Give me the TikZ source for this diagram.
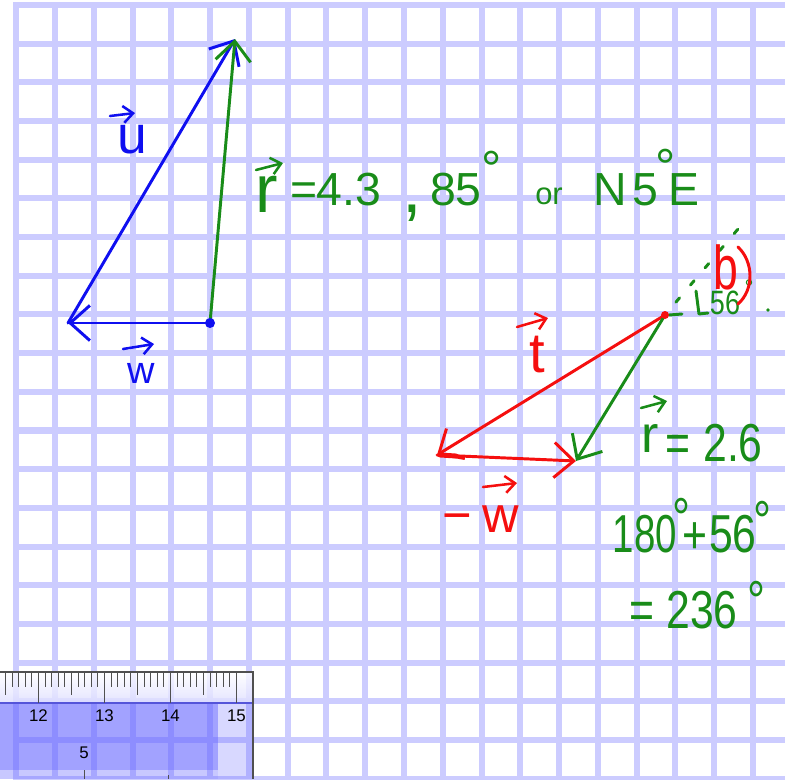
\documentclass[tikz,border=0pt]{standalone}
\usepackage{fontspec}
\setmainfont{Liberation Sans}
\newfontfamily\handnarrow[FakeStretch=0.8]{Liberation Sans}
\newfontfamily\handslim[FakeStretch=0.72]{Liberation Sans}
\usepackage{tikz}
\usetikzlibrary{arrows.meta,calc}

\definecolor{gridblue}{RGB}{204,204,255}
\definecolor{penblue}{RGB}{15,15,240}
\definecolor{pengreen}{RGB}{25,140,25}
\definecolor{penred}{RGB}{245,15,15}
\definecolor{rulerblue}{RGB}{100,100,255}
\definecolor{rulerlight}{RGB}{222,222,255}
\definecolor{tickgrey}{RGB}{80,80,80}

\newcommand\handsz[1]{\fontsize{#1}{#1}\selectfont}
\newcommand\narrowsz[1]{\handnarrow\fontsize{#1}{#1}\selectfont}
\newcommand\slimsz[1]{\handslim\fontsize{#1}{#1}\selectfont}

\tikzset{
  gridline/.style={gridblue, line width=4.3pt},
  pen/.style={line width=2.1pt, line cap=round, line join=round},
  vecline/.style={pen, -{Straight Barb[length=14pt,width=25pt]}},
  labvec/.style={pen, line width=1.8pt, -{Straight Barb[length=7pt,width=12pt]}},
  hand/.style={inner sep=0pt, anchor=base},
}

\begin{document}
\begin{tikzpicture}[x=0.25mm, y=-0.25mm]
    \useasboundingbox (0,0) rectangle (785,779);
    \fill[white] (0,0) rectangle (785,779);

    % Grid
    \foreach \k in {0,...,19}
        \draw[gridline] ({16.3+38.77*\k},2) -- ({16.3+38.77*\k},779);
    \foreach \k in {0,...,20}
        \draw[gridline] (13,{5+38.68*\k}) -- (785,{5+38.68*\k});

    % Ruler
    \shade[top color=white, bottom color=rulerlight, fill opacity=0.8] (0,672) rectangle (253,703);
    \fill[rulerblue, fill opacity=0.6] (0,703) rectangle (218,770);
    \fill[rulerblue, fill opacity=0.35] (0,770) rectangle (218,779);
    \fill[rulerblue, fill opacity=0.25] (218,703) rectangle (253,779);
    \draw[rulerblue!85!black, line width=1pt] (0,703) -- (253,703);
    \draw[tickgrey, line width=0.8pt] (0,672) -- (253,672) -- (253,779);
    \foreach \n in {-5,...,30} {
        \pgfmathsetmacro\tx{38.5+6.6*\n}
        \pgfmathsetmacro\tl{ifthenelse(mod(\n,10)==0,31,ifthenelse(mod(\n,5)==0,23,15))}
        \draw[tickgrey, line width=0.7pt] (\tx,672) -- (\tx,{672+\tl});
    }
    \foreach \v [count=\i from 0] in {12,13,14,15}
        \node[font=\handsz{12}] (num\v) at ({38.5+66*\i},716) {\v};
    \node[font=\handsz{12}] (lowfive) at (84,753) {5};
    \draw[tickgrey, line width=0.7pt] (84,770) -- (84,779);
    \draw[tickgrey, line width=0.7pt] (168,775) -- (168,779);

    % u, w and r
    \coordinate (wtail) at (210,323);
    \coordinate (wtip) at (68,323);
    \coordinate (utip) at (235,39);
    \draw[vecline, penblue] (wtail) -- (wtip);
    \draw[vecline, penblue] (wtip) -- (utip);
    \draw[vecline, pengreen] (wtail) -- (utip);
    \fill[penblue] (wtail) circle (5);

    \node[hand, penblue, font=\handsz{38}] (ulbl) at (132,153) {u};
    \draw[labvec, penblue] ([shift={(-22,-37)}]ulbl.base) -- ([shift={(3,-40)}]ulbl.base);
    \node[hand, penblue, font=\handsz{27}] (wlbl) at (141,383) {w};
    \draw[labvec, penblue] ([shift={(-18,-34)}]wlbl.base) -- ([shift={(13,-39)}]wlbl.base);

    % r = 4.3, 85 or N 5 E
    \node[hand, pengreen, font=\handsz{48}] (rA) at (267,212) {r};
    \draw[labvec, pengreen] ([shift={(-11,-42)}]rA.base) -- ([shift={(16,-49)}]rA.base);
    \node[hand, pengreen, font=\handsz{33}] (eqA) at (304,205) {=};
    \node[hand, pengreen, font=\handsz{33}] (magA) at (349,205) {4.3};
    \node[hand, pengreen, font=\handsz{50}] (commaA) at (412,212) {,};
    \node[hand, pengreen, font=\handsz{33}] (angA) at (456,205) {85};
    \node[hand, pengreen, font=\handsz{36}] (degA) at (492,186) {°};
    \node[hand, pengreen, font=\handsz{22}] (orA) at (549,204) {or};
    \node[hand, pengreen, font=\handsz{33}] (northA) at (610,205) {N};
    \node[hand, pengreen, font=\handsz{33}] (angB) at (645,205) {5};
    \node[hand, pengreen, font=\handsz{36}] (degB) at (666,184) {°};
    \node[hand, pengreen, font=\handsz{33}] (eastA) at (684,205) {E};

    % t, -w and r
    \coordinate (ttail) at (665,315);
    \coordinate (ttip) at (437,455);
    \coordinate (rtip) at (576,461);
    \coordinate (rext) at (744,222);
    \draw[vecline, penred] (ttail) -- (ttip);
    \draw[vecline, penred] (ttip) -- (rtip);
    \draw[vecline, pengreen] (ttail) -- (rtip);
    \draw[penred, line width=3.5pt, line cap=round] (440,455) -- (456,456);
    \draw[pen, pengreen, dash pattern=on 4pt off 12pt, shorten <=12pt] (ttail) -- (rext);
    \draw[pen, pengreen] (669,315) -- (682,314);
    \fill[penred] (ttail) circle (4);

    % angle mark
    \draw[pen, pengreen] (696,291) -- (699,314) -- (708,313);
    \node[hand, pengreen, font=\narrowsz{24}] (angC) at (725,314) {56};
    \node[hand, pengreen, font=\handsz{16}] (degC) at (749,295) {°};
    \node[hand, penred, font=\slimsz{44}] (blbl) at (726,289) {b};
    \draw[pen, penred] (738,247) .. controls (754,262) and (754,290) .. (738,304);
    \fill[pengreen] (768,310) circle (1.8);

    \node[hand, penred, font=\handsz{40}] (tlbl) at (537,372) {t};
    \draw[labvec, penred] ([shift={(-20,-45)}]tlbl.base) -- ([shift={(11,-54)}]tlbl.base);
    \node[hand, penred, font=\handsz{36}] (minus) at (457,532) {−};
    \node[hand, penred, font=\handsz{36}] (mwlbl) at (501,532) {w};
    \draw[labvec, penred] ([shift={(-18,-45)}]mwlbl.base) -- ([shift={(16,-49)}]mwlbl.base);

    % r = 2.6, 236
    \node[hand, pengreen, font=\handsz{37}] (rB) at (650,452) {r};
    \draw[labvec, pengreen] ([shift={(-9,-44)}]rB.base) -- ([shift={(17,-51)}]rB.base);
    \node[hand, pengreen, font=\narrowsz{38}] (eqB) at (678,461) {=};
    \node[hand, pengreen, font=\narrowsz{38}] (magB) at (733,461) {2.6};
    \node[hand, pengreen, font=\slimsz{38}] (sumA) at (645,552) {180};
    \node[hand, pengreen, font=\narrowsz{40}] (degD) at (681,537) {°};
    \node[hand, pengreen, font=\narrowsz{38}] (plus) at (695,553) {+};
    \node[hand, pengreen, font=\narrowsz{38}] (sumB) at (733,552) {56};
    \node[hand, pengreen, font=\narrowsz{40}] (degE) at (762,540) {°};
    \node[hand, pengreen, font=\narrowsz{38}] (eqC) at (642,628) {=};
    \node[hand, pengreen, font=\narrowsz{38}] (dirB) at (702,628) {236};
    \node[hand, pengreen, font=\narrowsz{40}] (degF) at (756,620) {°};

\end{tikzpicture}
\end{document}
